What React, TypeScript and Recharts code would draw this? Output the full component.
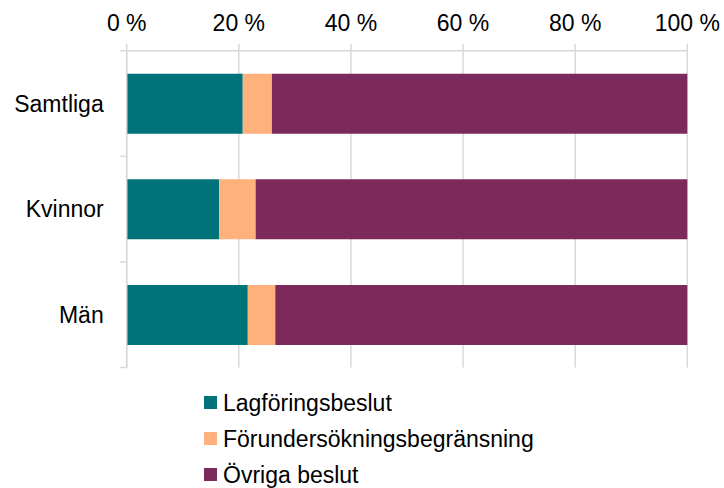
import { BarChart, Bar, XAxis, YAxis, CartesianGrid, Legend } from 'recharts';

const categories = ['Samtliga', 'Kvinnor', 'Män'];
const lagforing = [20.7, 16.5, 21.6];
const forundersokning = [5.2, 6.5, 4.9];
const ovriga = [74.1, 77.0, 73.5];
const xTicks = [0, 20, 40, 60, 80, 100];

const SERIES = [
  { key: 'Lagföringsbeslut', color: '#00737A' },
  { key: 'Förundersökningsbegränsning', color: '#FFB17C' },
  { key: 'Övriga beslut', color: '#7C2A5B' },
];

const data = categories.map((name, i) => ({
  name,
  'Lagföringsbeslut': lagforing[i],
  'Förundersökningsbegränsning': forundersokning[i],
  'Övriga beslut': ovriga[i],
}));

const W = 724;
const H = 488;
const TOP = 50.7;
const LEFT = 126.7;
const RIGHT = 36.7;
const PLOT_BOTTOM = 367.5;
const LEGEND_H = 110;
const BAND = (PLOT_BOTTOM - TOP) / categories.length;
const GRID = '#d9d9d9';
const FONT = '"Liberation Sans", Arial, sans-serif';

function CategoryTick(props: any) {
  const { x, y, payload, index } = props;
  const axisX = x + 23;
  return (
    <g>
      <text x={x} y={y} textAnchor="end" dominantBaseline="central" fontSize={23} fill="#000" fontFamily={FONT}>
        {payload.value}
      </text>
      <line x1={axisX - 7} x2={axisX} y1={y - BAND / 2} y2={y - BAND / 2} stroke={GRID} strokeWidth={1.5} />
      {index === categories.length - 1 && (
        <line x1={axisX - 7} x2={axisX} y1={y + BAND / 2} y2={y + BAND / 2} stroke={GRID} strokeWidth={1.5} />
      )}
    </g>
  );
}

function LegendContent() {
  return (
    <div style={{ height: LEGEND_H, fontFamily: FONT, fontSize: 23, color: '#000' }}>
      {SERIES.map((s) => (
        <div key={s.key} style={{ height: 36, display: 'flex', alignItems: 'center' }}>
          <span style={{ width: 12.5, height: 12.5, background: s.color, marginRight: 6.5, display: 'inline-block' }} />
          <span style={{ lineHeight: '36px' }}>{s.key}</span>
        </div>
      ))}
    </div>
  );
}

export default function App() {
  return (
    <div style={{ position: 'absolute', left: 0, top: 0, width: W, height: H, background: '#fff' }}>
      <BarChart
        width={W}
        height={H}
        data={data}
        layout="vertical"
        barSize={60}
        margin={{ top: 0, right: RIGHT, left: 0, bottom: H - PLOT_BOTTOM - LEGEND_H }}
      >
        <CartesianGrid horizontal={false} stroke={GRID} strokeWidth={1.5} />
        <XAxis
          type="number"
          orientation="top"
          domain={[0, 100]}
          ticks={xTicks}
          tickFormatter={(v) => `${v} %`}
          height={TOP}
          tickSize={7}
          tickMargin={13}
          axisLine={{ stroke: GRID, strokeWidth: 1.5 }}
          tickLine={{ stroke: GRID, strokeWidth: 1.5 }}
          tick={{ fontSize: 23, fill: '#000', fontFamily: FONT }}
          interval={0}
        />
        <YAxis
          type="category"
          dataKey="name"
          width={LEFT}
          tickSize={7}
          tickMargin={16}
          tickLine={false}
          axisLine={{ stroke: GRID, strokeWidth: 1.5 }}
          tick={<CategoryTick />}
          interval={0}
        />
        <Legend
          verticalAlign="bottom"
          align="center"
          layout="vertical"
          content={<LegendContent />}
          wrapperStyle={{ left: 204, top: 384.5, bottom: 'auto', width: 400 }}
        />
        {SERIES.map((s) => (
          <Bar key={s.key} dataKey={s.key} stackId="a" fill={s.color} isAnimationActive={false} />
        ))}
      </BarChart>
    </div>
  );
}
